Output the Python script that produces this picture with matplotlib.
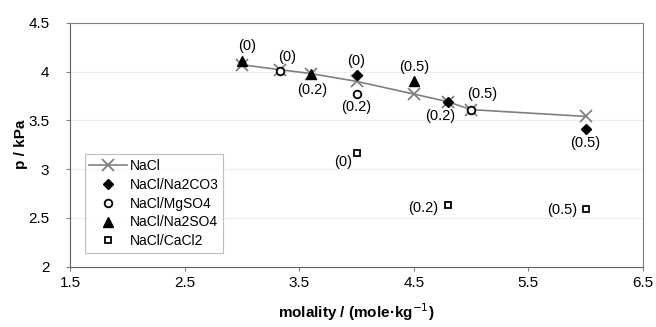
import matplotlib.pyplot as plt

plt.rcParams['font.family'] = ['Liberation Sans', 'DejaVu Sans']

# NaCl reference line
nacl_m = [3.0, 3.33, 3.6, 4.0, 4.5, 4.8, 5.0, 6.0]
nacl_p = [4.07, 4.02, 3.98, 3.90, 3.77, 3.69, 3.61, 3.54]

# mixtures, with the fraction label for each point
na2co3_m = [4.0, 4.8, 6.0]
na2co3_p = [3.97, 3.69, 3.41]
na2co3_lab = ['(0)', '(0.2)', '(0.5)']

mgso4_m = [3.33, 4.0, 5.0]
mgso4_p = [4.01, 3.77, 3.61]
mgso4_lab = ['(0)', '(0.2)', '(0.5)']

na2so4_m = [3.0, 3.6, 4.5]
na2so4_p = [4.11, 3.98, 3.90]
na2so4_lab = ['(0)', '(0.2)', '(0.5)']

cacl2_m = [4.0, 4.8, 6.0]
cacl2_p = [3.16, 2.63, 2.59]
cacl2_lab = ['(0)', '(0.2)', '(0.5)']

fig = plt.figure(figsize=(6.56, 3.27), dpi=100)
ax = fig.add_axes([0.107, 0.185, 0.873, 0.745])

ax.plot(nacl_m, nacl_p, color='#808080', lw=1.2, marker='x', ms=8, mew=1.3, label='NaCl')
ax.plot(na2co3_m, na2co3_p, ls='none', marker='D', ms=5.5, color='black', label='NaCl/Na2CO3')
ax.plot(mgso4_m, mgso4_p, ls='none', marker='o', ms=5.5, mfc='white', mec='black', mew=1.3, label='NaCl/MgSO4')
ax.plot(na2so4_m, na2so4_p, ls='none', marker='^', ms=7.5, color='black', label='NaCl/Na2SO4')
ax.plot(cacl2_m, cacl2_p, ls='none', marker='s', ms=5, mfc='white', mec='black', mew=1.3, label='NaCl/CaCl2')

fs = 11
afs = 10.5
# label offsets (points) for each point
offs_co3 = [(0, 10), (-6, -10), (0, -10)]
offs_mg = [(5, 10), (0, -9), (8, 11)]
offs_so4 = [(3.5, 11), (1, -11.5), (0, 10)]
offs_ca = [(-10, -6), (-18, -2), (-17, -1)]

for x, y, t, o in zip(na2co3_m, na2co3_p, na2co3_lab, offs_co3):
    ax.annotate(t, (x, y), xytext=o, textcoords='offset points', ha='center', va='center', fontsize=afs)
for x, y, t, o in zip(mgso4_m, mgso4_p, mgso4_lab, offs_mg):
    ax.annotate(t, (x, y), xytext=o, textcoords='offset points', ha='center', va='center', fontsize=afs)
for x, y, t, o in zip(na2so4_m, na2so4_p, na2so4_lab, offs_so4):
    ax.annotate(t, (x, y), xytext=o, textcoords='offset points', ha='center', va='center', fontsize=afs)
for x, y, t, o in zip(cacl2_m, cacl2_p, cacl2_lab, offs_ca):
    ax.annotate(t, (x, y), xytext=o, textcoords='offset points', ha='center', va='center', fontsize=afs)

ax.set_xlim(1.5, 6.5)
ax.set_ylim(2, 4.5)
ax.set_xticks([1.5, 2.5, 3.5, 4.5, 5.5, 6.5])
ax.set_yticks([2, 2.5, 3, 3.5, 4, 4.5])
ax.set_xticklabels(['1.5', '2.5', '3.5', '4.5', '5.5', '6.5'])
ax.set_yticklabels(['2', '2.5', '3', '3.5', '4', '4.5'])
ax.tick_params(labelsize=fs, direction='out', length=3, color='#808080')
ax.tick_params(axis='x', pad=4)
ax.tick_params(axis='y', pad=12)
ax.grid(axis='y', color='#eeeeee', lw=0.8)
ax.set_axisbelow(True)
for s in ['top', 'right']:
    ax.spines[s].set_color('#808080')
for s in ['left', 'bottom']:
    ax.spines[s].set_color('#606060')

ax.set_xlabel('molality / (mole·kg$^{-1}$)', fontsize=fs, fontweight='bold', labelpad=8)
ax.set_ylabel('p / kPa', fontsize=fs, fontweight='bold', labelpad=0)

leg = ax.legend(loc='lower left', bbox_to_anchor=(0.025, 0.055), fontsize=10, frameon=True,
                fancybox=False, edgecolor='#b0b0b0', handlelength=2.7, borderpad=0.35,
                labelspacing=0.35, handletextpad=0.2, borderaxespad=0)
leg.get_frame().set_linewidth(0.8)

fig.savefig('out.png', dpi=100)
